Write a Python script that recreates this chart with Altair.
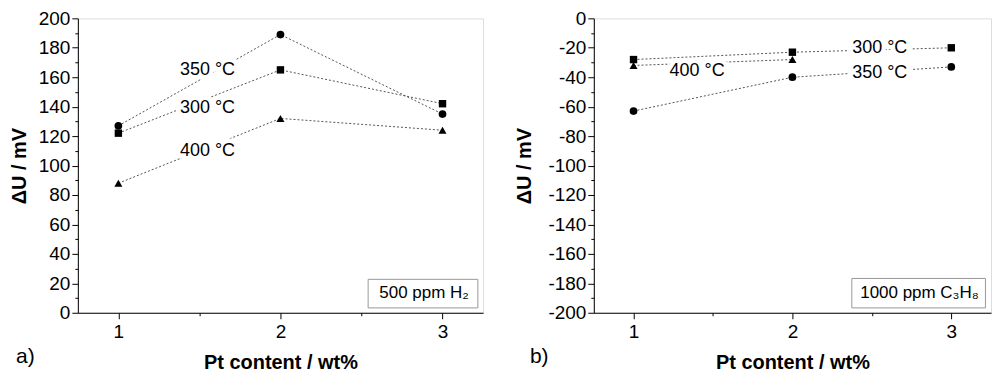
import altair as alt
import pandas as pd

x_vals = [1, 2, 3]
temps = ["300 °C", "350 °C", "400 °C"]

# panel a: 500 ppm H2
a_300 = [122, 165, 142]
a_350 = [127, 189, 135]
a_400 = [88, 132, 124]

# panel b: 1000 ppm C3H8
b_300 = [-28, -23, -20]
b_350 = [-63, -40, -33]
b_400 = [-32, -28]

# series labels (data units)
a_lab_text = ["350 °C", "300 °C", "400 °C"]
a_lab_x = [1.55, 1.55, 1.55]
a_lab_y = [164.7, 138.9, 110.0]
b_lab_text = ["400 °C", "300 °C", "350 °C"]
b_lab_x = [1.40, 2.55, 2.55]
b_lab_y = [-35.8, -20.2, -37.1]

# gas boxes (data units)
a_box = dict(x=2.541, x2=3.218, y=22.7, y2=3.3, tx=2.886, ty=13.3, text="500 ppm H₂")
b_box = dict(x=2.374, x2=3.215, y=-176.7, y2=-196.7, tx=2.80, ty=-186.7, text="1000 ppm C₃H₈")

FONT = "Liberation Sans"


def long_df(series):
    rows = []
    for name, vals in series.items():
        for xv, yv in zip(x_vals, vals):
            rows.append({"x": xv, "y": yv, "T": name})
    return pd.DataFrame(rows)


def panel(series, ydom, ystep, labels, box, letter, width, ytp, ldx):
    df = long_df(series)
    xs = alt.Scale(domain=[0.75, 3.25], nice=False, zero=False)
    ys = alt.Scale(domain=ydom, nice=False, zero=False)
    xax = alt.Axis(
        values=[1, 1.5, 2, 2.5, 3],
        labelExpr="datum.value % 1 === 0 ? '' + datum.value : ''",
        labelOverlap=False,
        labelFontSize={"condition": {"test": "datum.value % 1 === 0", "value": 19}, "value": 1},
        tickSize={"condition": {"test": "datum.value % 1 === 0", "value": 6}, "value": 3},
        grid=False, title="Pt content / wt%", titleFont=FONT, titleFontSize=20,
        titleFontWeight="bold", titleColor="black", titlePadding=11,
        labelFont=FONT, labelColor="black", labelPadding=4,
        domainColor="black", tickColor="black",
    )
    yvals = list(range(ydom[0], ydom[1] + 1, ystep // 2))
    yax = alt.Axis(
        values=yvals,
        labelExpr=f"datum.value % {ystep} === 0 ? '' + datum.value : ''",
        labelOverlap=False,
        labelFontSize={"condition": {"test": f"datum.value % {ystep} === 0", "value": 19}, "value": 1},
        tickSize={"condition": {"test": f"datum.value % {ystep} === 0", "value": 6}, "value": 3},
        grid=False, title="ΔU / mV", titleFont=FONT, titleFontSize=20,
        titleFontWeight="bold", titleColor="black", titlePadding=ytp,
        labelFont=FONT, labelColor="black", labelPadding=2,
        domainColor="black", tickColor="black",
    )
    X = lambda f: alt.X(f"{f}:Q", scale=xs, axis=xax)
    Y = lambda f: alt.Y(f"{f}:Q", scale=ys, axis=yax)
    base = alt.Chart(df)
    lines = base.mark_line(color="#555", strokeDash=[2, 2], strokeWidth=1).encode(
        x=X("x"), y=Y("y"), detail="T:N",
    )
    lab_df = pd.DataFrame({"x": labels[1], "y": labels[2], "t": labels[0]})
    halo = alt.Chart(lab_df).mark_text(
        font=FONT, fontSize=18, color="white", stroke="white", strokeWidth=9
    ).encode(x=X("x"), y=Y("y"), text="t:N")
    txt = alt.Chart(lab_df).mark_text(font=FONT, fontSize=18, color="black").encode(
        x=X("x"), y=Y("y"), text="t:N"
    )
    pts = base.mark_point(filled=True, opacity=1, color="black").encode(
        x=X("x"), y=Y("y"),
        shape=alt.Shape("T:N", scale=alt.Scale(domain=temps, range=["square", "circle", "triangle-up"]), legend=None),
        size=alt.Size("T:N", scale=alt.Scale(domain=temps, range=[55, 65, 70]), legend=None),
    )
    box_df = pd.DataFrame([box])
    rect = alt.Chart(box_df).mark_rect(fill="white", stroke="#999", strokeWidth=1).encode(
        x=X("x"), x2="x2:Q", y=Y("y"), y2="y2:Q"
    )
    btxt = alt.Chart(box_df).mark_text(font=FONT, fontSize=17, color="black").encode(
        x=X("tx"), y=Y("ty"), text="text:N"
    )
    return alt.layer(lines, halo, txt, pts, rect, btxt).properties(
        width=width, height=295,
        title=alt.TitleParams(letter, orient="bottom", anchor="start", frame="group",
                              font=FONT, fontSize=21, fontWeight="normal", color="black",
                              offset=-27, dx=ldx),
    )


pa = panel({"300 °C": a_300, "350 °C": a_350, "400 °C": a_400}, [0, 200], 20,
           (a_lab_text, a_lab_x, a_lab_y), a_box, "a)", 406, 9, -62)
pb = panel({"300 °C": b_300, "350 °C": b_350, "400 °C": b_400}, [-200, 0], 20,
           (b_lab_text, b_lab_x, b_lab_y), b_box, "b)", 398, 13, -64)

chart = alt.hconcat(pa, pb, spacing=30).properties(
    padding={"left": 0, "top": 0, "right": 0, "bottom": 0}
).configure_view(stroke="black", strokeWidth=1.5).configure(background="white")

chart.save("out.html", embed_options={"renderer": "svg", "actions": False})
